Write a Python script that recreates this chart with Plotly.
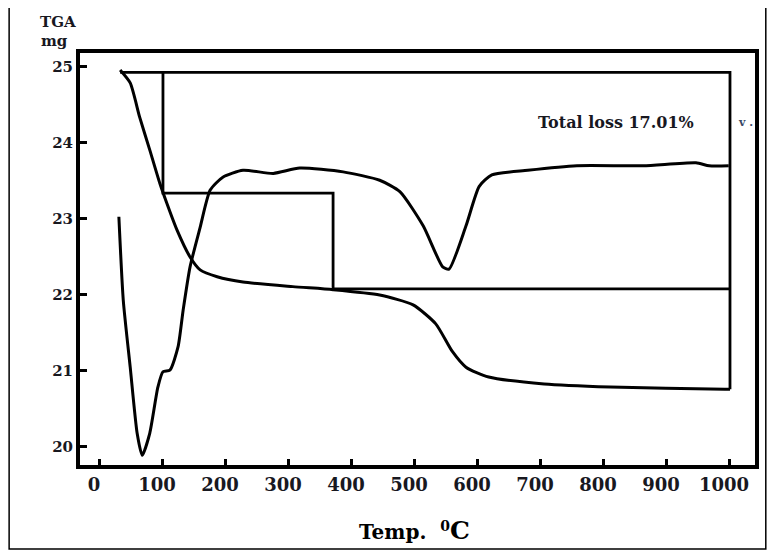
import plotly.graph_objects as go

# TGA curve (mg) vs temperature (°C)
tga_T = [32, 48, 63, 79, 95, 106, 122, 143, 159, 186, 227, 306, 370, 444, 497, 533, 559, 581, 617, 705, 810, 992, 1000]
tga_mg = [24.96, 24.79, 24.34, 23.91, 23.47, 23.21, 22.86, 22.50, 22.33, 22.24, 22.17, 22.11, 22.07, 22.00, 21.87, 21.62, 21.26, 21.05, 20.92, 20.83, 20.79, 20.76, 20.76]

# DTA-type curve (drawn on same scale)
dta_T = [30, 37, 48, 59, 67, 79, 92, 100, 111, 124, 132, 143, 159, 175, 195, 227, 275, 317, 386, 444, 476, 513, 544, 554, 581, 602, 622, 679, 757, 862, 946, 967, 998]
dta_mg = [23.03, 21.93, 21.05, 20.18, 19.89, 20.18, 20.79, 20.99, 21.01, 21.32, 21.80, 22.37, 22.89, 23.38, 23.55, 23.64, 23.60, 23.67, 23.62, 23.51, 23.36, 22.91, 22.37, 22.34, 22.91, 23.43, 23.58, 23.64, 23.70, 23.70, 23.74, 23.70, 23.70]

# Weight-loss step construction lines
step_T = [32, 1000, 1000, None, 100, 100, 370, 370, 1000]
step_mg = [24.93, 24.93, 20.76, None, 24.93, 23.34, 23.34, 22.08, 22.08]

x_ticks = [0, 100, 200, 300, 400, 500, 600, 700, 800, 900, 1000]
y_ticks = [20, 21, 22, 23, 24, 25]

annot_text = "Total loss 17.01%"
annot_T, annot_mg = 819, 24.27

serif = "DejaVu Serif"
ink = "#18181f"

fig = go.Figure()
fig.add_trace(go.Scatter(x=step_T, y=step_mg, mode="lines", line=dict(color="black", width=2.8),
                         connectgaps=False, hoverinfo="skip"))
fig.add_trace(go.Scatter(x=tga_T, y=tga_mg, mode="lines",
                         line=dict(color="black", width=3, shape="spline", smoothing=0.6)))
fig.add_trace(go.Scatter(x=dta_T, y=dta_mg, mode="lines",
                         line=dict(color="black", width=3, shape="spline", smoothing=0.6)))

fig.update_layout(
    width=767, height=546,
    margin=dict(l=72, r=20, t=45, b=89),
    paper_bgcolor="white", plot_bgcolor="white",
    showlegend=False,
    font=dict(family=serif, color="black"),
)
fig.update_xaxes(
    range=[-31.7, 1039.7], tickvals=x_ticks, ticktext=["<b>%d</b>" % v for v in x_ticks],
    showgrid=False, zeroline=False, showline=True, linecolor="black", linewidth=4, mirror=True,
    ticks="inside", ticklen=6, tickwidth=3, tickcolor="black", ticklabelshift=-6,
    tickfont=dict(family=serif, size=18, color=ink, weight="bold"),
)
fig.update_yaxes(
    range=[19.763, 25.184], tickvals=y_ticks, ticktext=["<b>%d</b>" % v for v in y_ticks],
    showgrid=False, zeroline=False, showline=True, linecolor="black", linewidth=4, mirror=True,
    ticks="inside", ticklen=7, tickwidth=3, tickcolor="black",
    tickfont=dict(family=serif, size=15, color=ink, weight="bold"),
)

fig.add_annotation(x=annot_T, y=annot_mg, text="<b>" + annot_text + "</b>", showarrow=False,
                   xanchor="center", yanchor="middle",
                   font=dict(family=serif, size=16, color=ink))
fig.add_annotation(x=1025, y=annot_mg, text="<b>v .</b>", showarrow=False,
                   xanchor="center", yanchor="middle",
                   font=dict(family=serif, size=11, color="#3a4a66"))
fig.add_annotation(xref="paper", yref="paper", x=-0.033, y=1.075, text="<b>TGA</b>", showarrow=False,
                   xanchor="center", yanchor="middle",
                   font=dict(family=serif, size=15, color=ink))
fig.add_annotation(xref="paper", yref="paper", x=-0.038, y=1.029, text="<b>mg</b>", showarrow=False,
                   xanchor="center", yanchor="middle",
                   font=dict(family=serif, size=15, color=ink))
fig.add_annotation(xref="paper", yref="paper", x=0.496, y=-0.158,
                   text="<b>Temp.  <sup>0</sup><span style='font-size:25px'>C</span></b>", showarrow=False,
                   xanchor="center", yanchor="middle",
                   font=dict(family=serif, size=20, color="black"))

fig.add_shape(type="rect", xref="paper", yref="paper", x0=-0.105, x1=1.016, y0=-0.204, y1=1.1165,
              line=dict(color="black", width=1.5), layer="below")

fig.write_html("out.html")
